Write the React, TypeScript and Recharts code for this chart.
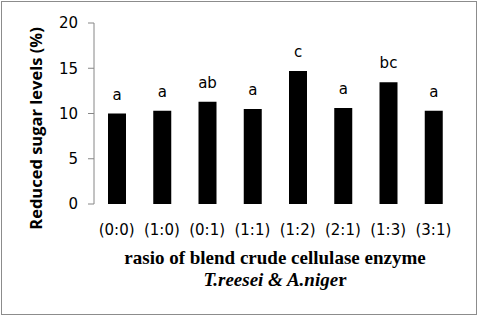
import React from 'react';
import { BarChart, Bar, XAxis, YAxis, LabelList, Label } from 'recharts';

const categories = ['(0:0)', '(1:0)', '(0:1)', '(1:1)', '(1:2)', '(2:1)', '(1:3)', '(3:1)'];
const sugarLevels = [10.0, 10.3, 11.3, 10.5, 14.7, 10.6, 13.45, 10.3];
const significance = ['a', 'a', 'ab', 'a', 'c', 'a', 'bc', 'a'];
const yTicks = [0, 5, 10, 15, 20];
const boundaryTicks = [0, 1, 2, 3, 4, 5, 6, 7, 8];

const data = categories.map((c, i) => ({ ratio: c, value: sugarLevels[i], letter: significance[i] }));

const AXIS_GREY = '#868686';
const SANS = 'DejaVu Sans';

const YLabel = (props: any) => {
  const vb = props.viewBox || {};
  const cx = vb.x + 35;
  const cy = vb.y + vb.height / 2 + 15;
  return (
    <text
      x={cx}
      y={cy}
      transform={`rotate(-90, ${cx}, ${cy})`}
      textAnchor="middle"
      dominantBaseline="central"
      fontFamily="Open Sans"
      fontWeight="bold"
      fontSize={16.5}
      fill="#000"
    >
      Reduced sugar levels (%)
    </text>
  );
};

const XLabel = (props: any) => {
  const vb = props.viewBox || {};
  const cx = vb.x + vb.width / 2;
  const y = vb.y + 60;
  return (
    <text x={cx} y={y} textAnchor="middle" fontFamily="Liberation Serif" fontWeight="bold" fontSize={19} fill="#000">
      <tspan x={cx}>rasio of blend crude cellulase enzyme</tspan>
      <tspan x={cx} dy={22}>
        <tspan fontStyle="italic">T.reesei &amp; A.nige</tspan>r
      </tspan>
    </text>
  );
};

export default function App() {
  return (
    <div style={{ position: 'fixed', left: 0, top: 0, width: 480, height: 317, background: '#fff' }}>
      <div
        style={{
          position: 'absolute',
          left: 1,
          top: 1,
          width: 474,
          height: 312,
          border: '1px solid #8c8c8c',
        }}
      />
      <div style={{ position: 'absolute', left: 0, top: 0 }}>
        <BarChart width={480} height={317} data={data} margin={{ top: 23, right: 24, bottom: 0, left: 0 }}>
          <XAxis
            xAxisId="edge"
            type="number"
            domain={[0, 8]}
            allowDataOverflow
            ticks={boundaryTicks}
            tickFormatter={() => ''}
            tickSize={6}
            height={0}
            stroke={AXIS_GREY}
            tickLine={{ stroke: AXIS_GREY }}
          />
          <XAxis
            xAxisId="cat"
            dataKey="ratio"
            axisLine={false}
            tickLine={false}
            tickSize={0}
            tickMargin={20}
            height={113}
            interval={0}
            tick={{ fill: '#000', fontSize: 15, fontFamily: SANS }}
          >
            <Label content={XLabel} />
          </XAxis>
          <YAxis
            width={94}
            domain={[0, 20]}
            ticks={yTicks}
            allowDataOverflow
            tickSize={6}
            tickMargin={10}
            stroke={AXIS_GREY}
            tickLine={{ stroke: AXIS_GREY }}
            tick={{ fill: '#000', fontSize: 15, fontFamily: SANS }}
          >
            <Label content={YLabel} />
          </YAxis>
          <Bar xAxisId="cat" dataKey="value" fill="#000" barSize={18} isAnimationActive={false}>
            <LabelList
              dataKey="letter"
              position="top"
              offset={14}
              style={{ fill: '#000', fontSize: 15, fontFamily: SANS }}
            />
          </Bar>
        </BarChart>
      </div>
    </div>
  );
}
